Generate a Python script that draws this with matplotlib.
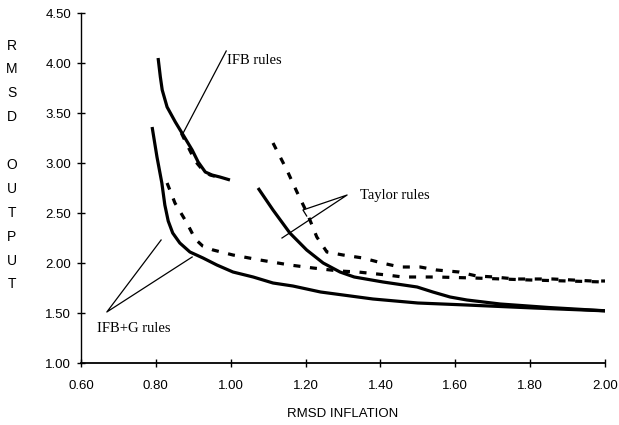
import numpy as np
import matplotlib
matplotlib.use("Agg")
import matplotlib.pyplot as plt

# curves (RMSD inflation, RMSD output)
ifb_x = [0.806, 0.812, 0.817, 0.830, 0.852, 0.873, 0.897, 0.913, 0.932, 0.950, 0.971, 0.998]
ifb_y = [4.05, 3.86, 3.73, 3.56, 3.41, 3.28, 3.13, 3.01, 2.91, 2.88, 2.86, 2.83]
ifb_d_x = [0.868, 0.885, 0.905, 0.925, 0.945, 0.965]
ifb_d_y = [3.30, 3.17, 3.02, 2.93, 2.88, 2.86]

ifbg_x = [0.790, 0.803, 0.816, 0.824, 0.833, 0.845, 0.864, 0.891, 0.926, 0.963, 1.006,
          1.060, 1.113, 1.166, 1.240, 1.380, 1.500, 1.630, 1.810, 2.010]
ifbg_y = [3.36, 3.06, 2.80, 2.58, 2.42, 2.30, 2.20, 2.11, 2.05, 1.98, 1.91,
          1.86, 1.80, 1.77, 1.71, 1.64, 1.60, 1.58, 1.55, 1.52]
ifbg_d_x = [0.830, 0.851, 0.883, 0.905, 0.925, 0.953, 1.006, 1.078, 1.158, 1.220, 1.290,
            1.340, 1.417, 1.460, 1.550, 1.650, 1.800, 2.000]
ifbg_d_y = [2.80, 2.60, 2.40, 2.24, 2.17, 2.13, 2.08, 2.03, 1.98, 1.95, 1.92,
            1.91, 1.88, 1.86, 1.86, 1.85, 1.83, 1.81]

tay_x = [1.073, 1.113, 1.158, 1.203, 1.247, 1.292, 1.330, 1.407, 1.498, 1.540,
         1.586, 1.631, 1.720, 1.850, 2.010]
tay_y = [2.75, 2.53, 2.30, 2.13, 2.00, 1.91, 1.86, 1.81, 1.76, 1.71,
         1.66, 1.63, 1.59, 1.555, 1.52]
tay_d_x = [1.113, 1.150, 1.177, 1.204, 1.230, 1.257, 1.300, 1.353, 1.404, 1.452,
           1.506, 1.550, 1.610, 1.657, 1.705, 1.760, 1.860, 1.965, 2.010]
tay_d_y = [3.20, 2.93, 2.71, 2.50, 2.26, 2.11, 2.08, 2.05, 2.00, 1.96,
           1.96, 1.93, 1.91, 1.87, 1.86, 1.84, 1.84, 1.82, 1.82]

xticks = [0.6, 0.8, 1.0, 1.2, 1.4, 1.6, 1.8, 2.0]
yticks = [1.0, 1.5, 2.0, 2.5, 3.0, 3.5, 4.0, 4.5]

SANS = "Liberation Sans"
SERIF = "Liberation Serif"

fig = plt.figure(figsize=(6.19, 4.25), dpi=100)
ax = fig.add_axes([81 / 619, 62 / 425, 524 / 619, 350 / 425])

solid = dict(color="black", lw=2.3, solid_capstyle="butt", solid_joinstyle="round")
dashed = dict(color="black", lw=2.3, ls=(0, (2.2, 3.0)), dash_capstyle="butt")
ax.plot(ifb_x, ifb_y, **solid)
ax.plot(ifb_d_x, ifb_d_y, **dashed)
ax.plot(ifbg_x, ifbg_y, **solid)
ax.plot(ifbg_d_x, ifbg_d_y, **dashed)
ax.plot(tay_x, tay_y, **solid)
ax.plot(tay_d_x, tay_d_y, **dashed)

ax.set_xlim(0.6, 2.0)
ax.set_ylim(1.0, 4.5)
ax.set_xticks(xticks)
ax.set_yticks(yticks)
ax.set_xticklabels([f"{v:.2f}" for v in xticks], fontfamily=SANS, fontsize=9.5)
ax.set_yticklabels([f"{v:.2f}" for v in yticks], fontfamily=SANS, fontsize=9.5)
ax.tick_params(direction="inout", length=6, width=1.0, colors="black", pad=4)
ax.tick_params(axis="x", pad=9)
for s in ["top", "right"]:
    ax.spines[s].set_visible(False)
ax.spines["left"].set_linewidth(1.0)
ax.spines["bottom"].set_linewidth(1.3)
ax.patch.set_alpha(0)
for a in ax.get_xticklabels() + ax.get_yticklabels():
    a.set_clip_on(False)

line_kw = dict(color="black", lw=0.9)
# IFB rules
ax.plot([0.873, 0.988], [3.30, 4.12], **line_kw)
ax.text(0.99, 4.03, "IFB rules", fontfamily=SERIF, fontsize=10.5, va="center")
# Taylor rules
ax.plot([1.137, 1.311, 1.193, 1.203], [2.25, 2.68, 2.53, 2.47], **line_kw)
ax.text(1.345, 2.68, "Taylor rules", fontfamily=SERIF, fontsize=10.5, va="center")
# IFB+G rules
ax.plot([0.814, 0.669, 0.897], [2.23, 1.51, 2.06], **line_kw)
ax.text(0.643, 1.35, "IFB+G rules", fontfamily=SERIF, fontsize=10.5, va="center")

ax.set_xlabel("RMSD INFLATION", fontfamily=SANS, fontsize=9.5, labelpad=12)
fig.text(12 / 619, 1 - 165 / 425, "R\nM\nS\nD\n\nO\nU\nT\nP\nU\nT",
         fontfamily=SANS, fontsize=10, ha="center", va="center",
         multialignment="center", linespacing=1.9)

fig.savefig("out.png", dpi=100)
